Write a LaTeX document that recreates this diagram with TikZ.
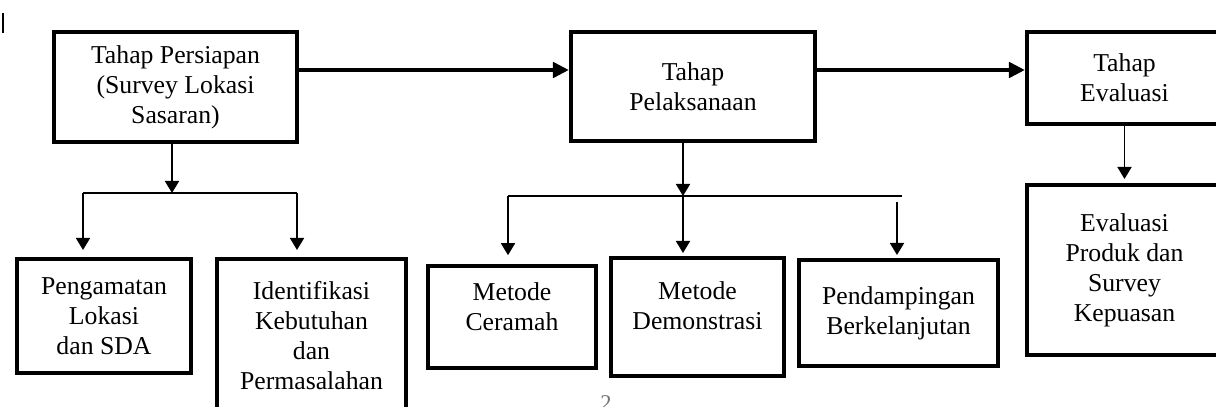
\documentclass[tikz,border=0pt]{standalone}
\usepackage{fontspec}
\setmainfont{Liberation Serif}
\usepackage{tikz}
\usetikzlibrary{arrows.meta}
\usetikzlibrary{positioning,calc}

\begin{document}
\begin{tikzpicture}[x=0.025cm,y=-0.025cm,
  txt/.style={align=center,font=\fontsize{18.3}{21.3}\selectfont,inner sep=0pt},
  box/.style={draw,line width=0.1cm,txt},
  main/.style={line width=0.1cm,-{Triangle[length=0.4cm,width=0.38cm]}},
  thinline/.style={line width=0.045cm},
  thinarr/.style={thinline,-{Triangle[length=0.3cm,width=0.35cm]}}]
\useasboundingbox (0,0) rectangle (1216,407);
%\draw[help lines] (0,0) grid[step=50] (1216,407);
\draw[line width=0.035cm] (3,13) -- (3,33);
% top row
\node[box,minimum width=6.075cm,minimum height=2.75cm] (persiapan) at (175.5,87) {Tahap Persiapan\\(Survey Lokasi\\Sasaran)};
\node[box,minimum width=6.1cm,minimum height=2.725cm] (pelaksanaan) at (693,86.5) {Tahap\\Pelaksanaan};
\node[box,minimum width=4.875cm,minimum height=2.275cm] (evaluasi) at (1124.5,78) {Tahap\\Evaluasi};
% bottom row
\node[box,minimum width=4.35cm,minimum height=2.85cm] (pengamatan) at (104,316) {Pengamatan\\Lokasi\\dan SDA};
\node[box,minimum width=4.725cm,minimum height=3.825cm] (identifikasi) at (311.5,335.5) {Identifikasi\\Kebutuhan\\dan\\Permasalahan};
\node[box,minimum width=4.2cm,minimum height=2.55cm,
  label={[txt,name=ceramahtxt,yshift=0.25cm]center:Metode\\Ceramah}] (ceramah) at (512,317) {};
\node[box,minimum width=4.325cm,minimum height=2.95cm,
  label={[txt,name=demonstrasitxt,yshift=0.275cm]center:Metode\\Demonstrasi}] (demonstrasi) at (697.5,317) {};
\node[box,minimum width=4.975cm,minimum height=2.65cm] (pendampingan) at (898.5,313) {Pendampingan\\Berkelanjutan};
\node[box,minimum width=4.875cm,minimum height=4.25cm] (produk) at (1124.5,270) {Evaluasi\\Produk dan\\Survey\\Kepuasan};
\node[font=\fontsize{16}{18}\selectfont,text=black!55,inner sep=0pt] (pagenum) at (606,403) {2};
% main flow
\coordinate (lane) at (0,70);
\draw[main] (persiapan.east |- lane) -- (pelaksanaan.west |- lane);
\draw[main] (pelaksanaan.east |- lane) -- (evaluasi.west |- lane);
% branches
\coordinate (fork1) at (172,193);
\coordinate (left1) at (83,193);
\coordinate (right1) at (297,193);
\draw[thinarr] (persiapan.south -| fork1) -- (fork1);
\draw[thinline] (left1) -- (right1);
\draw[thinarr,shorten >=0.175cm] (left1) -- (left1 |- pengamatan.north);
\draw[thinarr,shorten >=0.175cm] (right1) -- (right1 |- identifikasi.north);
\coordinate (fork2) at (683,196);
\coordinate (left2) at (508,196);
\coordinate (end2) at (902,196);
\coordinate (right2) at (897,202);
\draw[thinarr] (pelaksanaan.south -| fork2) -- (fork2);
\draw[thinline] (left2) -- (end2);
\draw[thinarr,shorten >=0.22cm] (left2) -- (left2 |- ceramah.north);
\draw[thinarr,shorten >=0.075cm] (fork2) -- (fork2 |- demonstrasi.north);
\draw[thinarr,shorten >=0.075cm] (right2) -- (right2 |- pendampingan.north);
\draw[thinarr,shorten >=0.1cm] (evaluasi.south) -- (produk.north);
\end{tikzpicture}
\end{document}
